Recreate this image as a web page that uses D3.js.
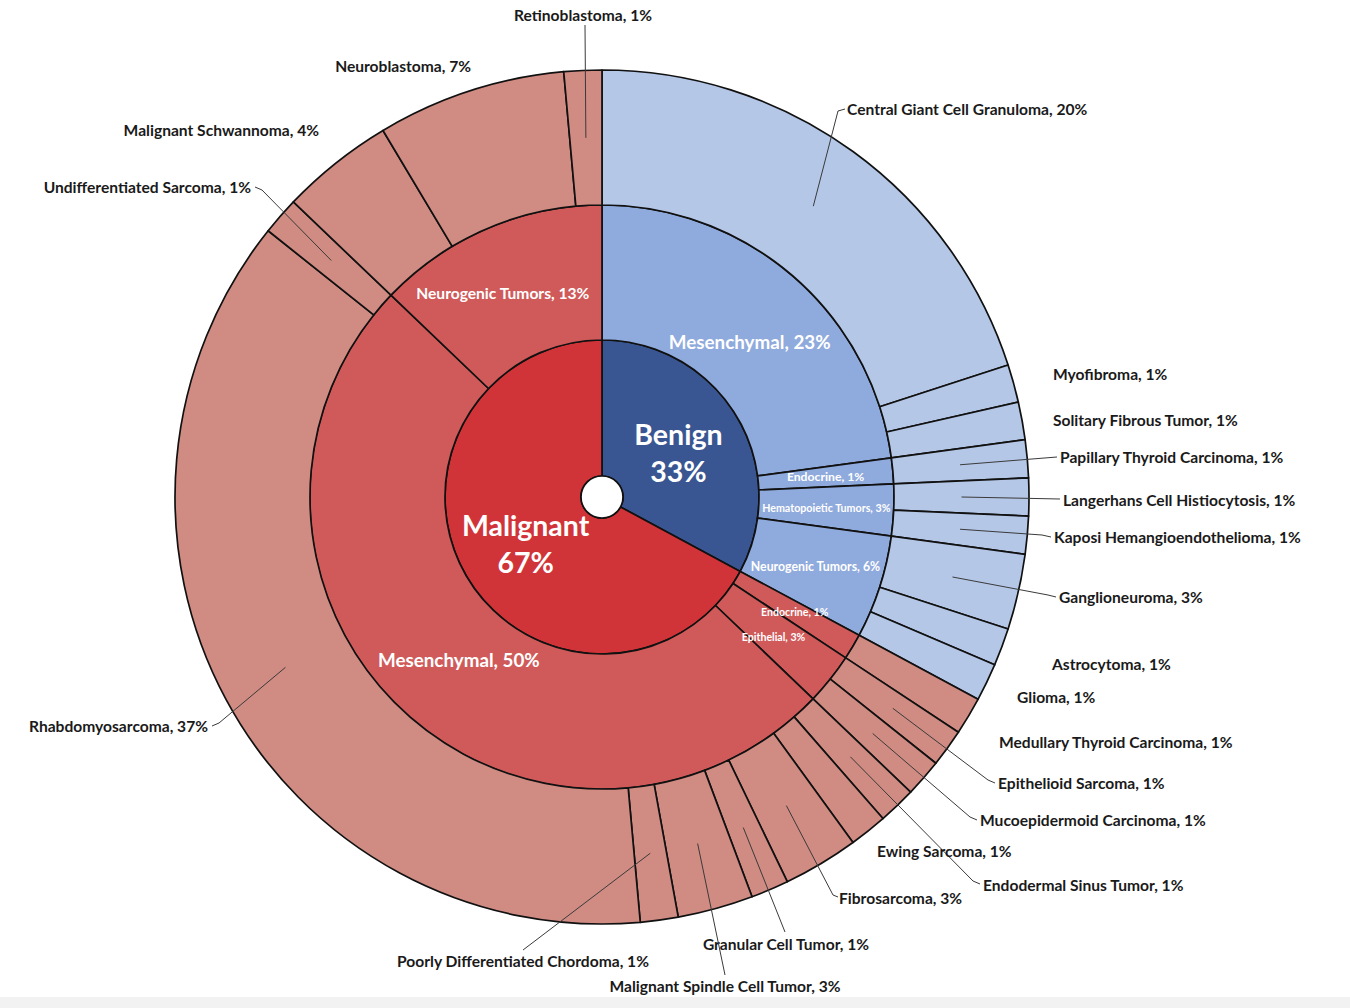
<!DOCTYPE html>
<html>
<head>
<meta charset="utf-8">
<script src="https://cdn.jsdelivr.net/npm/d3@7"></script>
<style>
  html, body { margin: 0; padding: 0; background: #ffffff; }
  svg { display: block; }
  text { font-family: Lato, "Open Sans", sans-serif; font-weight: 700; }
</style>
</head>
<body>
<svg id="chart" width="1350" height="1008"></svg>
<script>
// ---------------- DATA ----------------
const innerNames = ["Benign", "Malignant"];

const middleNames  = ["Mesenchymal", "Endocrine", "Hematopoietic Tumors", "Neurogenic Tumors",
                      "Endocrine", "Epithelial", "Mesenchymal", "Neurogenic Tumors"];
const middleParent = [0, 0, 0, 0, 1, 1, 1, 1];

const outerNames = [
  "Central Giant Cell Granuloma", "Myofibroma", "Solitary Fibrous Tumor",
  "Papillary Thyroid Carcinoma", "Langerhans Cell Histiocytosis", "Kaposi Hemangioendothelioma",
  "Ganglioneuroma", "Astrocytoma", "Glioma",
  "Medullary Thyroid Carcinoma", "Epithelioid Sarcoma", "Mucoepidermoid Carcinoma",
  "Endodermal Sinus Tumor", "Ewing Sarcoma", "Fibrosarcoma", "Granular Cell Tumor",
  "Malignant Spindle Cell Tumor", "Poorly Differentiated Chordoma", "Rhabdomyosarcoma",
  "Undifferentiated Sarcoma", "Malignant Schwannoma", "Neuroblastoma", "Retinoblastoma"
];
const outerCounts = [14, 1, 1, 1, 1, 1, 2, 1, 1, 1, 1, 1, 1, 1, 2, 1, 2, 1, 26, 1, 3, 5, 1];
const outerParent = [0, 0, 0, 1, 2, 2, 3, 3, 3, 4, 5, 5, 6, 6, 6, 6, 6, 6, 6, 6, 7, 7, 7];

// ---------------- LAYOUT (positions / styles) ----------------
const W = 1350, H = 1008;
const cx = 602, cy = 497;
const ringRadii = [21, 157, 292, 427];   // hole, inner, middle, outer edges

const innerColors  = ["#3a5692", "#d13438"];
const middleColors = ["#8faadc", "#d05a5a"];
const outerColors  = ["#b4c7e7", "#d08b83"];

// outer labels: [x, y, anchor, leader points (after segment centroid) or null]
const outerLabelLayout = [
  [847, 109, "start", [[838, 111], [845, 109]]],
  [1053, 374, "start", null],
  [1053, 420, "start", null],
  [1060, 457, "start", [[1057, 457]]],
  [1063, 500, "start", [[1060, 499]]],
  [1054, 537, "start", [[1042, 535], [1051, 537]]],
  [1059, 597, "start", [[1048, 595], [1056, 597]]],
  [1052, 664, "start", null],
  [1017, 697, "start", null],
  [999, 742, "start", null],
  [998, 783, "start", [[988, 780], [995, 783]]],
  [980, 820, "start", [[970, 817], [977, 820]]],
  [983, 885, "start", [[973, 881], [980, 884]]],
  [877, 851, "start", null],
  [839, 898, "start", [[833, 895], [838, 897]]],
  [786, 944, "middle", [[785, 932]]],
  [725, 986, "middle", [[725, 975]]],
  [523, 961, "middle", [[523, 950]]],
  [208, 726, "end", [[219, 723], [212, 726]]],
  [251, 187, "end", [[262, 190], [255, 187]]],
  [319, 130, "end", null],
  [471, 66, "end", null],
  [583, 15, "middle", [[585, 25]]]
];
const outerLabelSize  = 15.6;
const innerLabelSize  = 28.5;
const middleLabelSize = [18.8, 12.2, 10.7, 12.3, 10.6, 10.6, 18.8, 15.6];
const middleLabelDy   = [14, 0, 0, 0, 0, 0, 0, 2];
const middleLabelDx   = [0, 0, 0, 0, 0, -4, 12, -11];

// ---------------- BUILD HIERARCHY ----------------
const rootData = {
  name: "root",
  children: innerNames.map((n, i) => ({
    name: n, gi: i,
    children: middleNames.map((m, j) => ({ m, j })).filter(o => middleParent[o.j] === i)
      .map(o => ({
        name: o.m, gi: i, mi: o.j,
        children: outerNames.map((on, k) => ({ on, k })).filter(q => outerParent[q.k] === o.j)
          .map(q => ({ name: q.on, gi: i, mi: o.j, oi: q.k, value: outerCounts[q.k] }))
      }))
  }))
};

const root = d3.hierarchy(rootData).sum(d => d.value || 0);
d3.partition().size([2 * Math.PI, 4])(root);
const total = root.value;
const pct = v => Math.round(v / total * 100) + "%";

const rScale = d3.scaleOrdinal().domain([1, 2, 3]).range([[ringRadii[0], ringRadii[1]], [ringRadii[1], ringRadii[2]], [ringRadii[2], ringRadii[3]]]);

const arc = d3.arc()
  .startAngle(d => d.x0)
  .endAngle(d => d.x1)
  .innerRadius(d => rScale(d.depth)[0])
  .outerRadius(d => rScale(d.depth)[1]);

const colorFor = d => d.depth === 1 ? innerColors[d.data.gi]
                    : d.depth === 2 ? middleColors[d.data.gi]
                    : outerColors[d.data.gi];

// ---------------- DRAW ----------------
const svg = d3.select("#chart");
svg.append("rect").attr("width", W).attr("height", H).attr("fill", "#ffffff");
svg.append("rect").attr("x", 0).attr("y", 997).attr("width", W).attr("height", 11).attr("fill", "#f2f2f2");

const g = svg.append("g").attr("transform", `translate(${cx},${cy})`);

const nodes = root.descendants().filter(d => d.depth > 0);

g.selectAll("path.seg")
  .data(nodes)
  .join("path")
  .attr("class", "seg")
  .attr("d", arc)
  .attr("fill", colorFor)
  .attr("stroke", "#111")
  .attr("stroke-width", 1.7)
  .attr("stroke-linejoin", "round");

// center hole
g.append("circle").attr("r", ringRadii[0]).attr("fill", "#fff").attr("stroke", "#111").attr("stroke-width", 1.7);

// inner labels
root.children.forEach(d => {
  const [x, y] = arc.centroid(d);
  const t = g.append("text")
    .attr("x", x).attr("y", y)
    .attr("text-anchor", "middle")
    .attr("fill", "#fff")
    .attr("font-size", innerLabelSize);
  t.append("tspan").attr("x", x).attr("dy", "-0.22em").text(d.data.name);
  t.append("tspan").attr("x", x).attr("dy", "1.28em").text(pct(d.value));
});

// middle labels
root.descendants().filter(d => d.depth === 2).forEach(d => {
  const [x, y] = arc.centroid(d);
  g.append("text")
    .attr("x", x + middleLabelDx[d.data.mi]).attr("y", y + middleLabelDy[d.data.mi])
    .attr("text-anchor", "middle")
    .attr("dominant-baseline", "central")
    .attr("fill", "#fff")
    .attr("font-size", middleLabelSize[d.data.mi])
    .text(`${d.data.name}, ${pct(d.value)}`);
});

// outer labels + leaders
const lg = svg.append("g");
root.leaves().forEach(d => {
  const k = d.data.oi;
  const [lx, ly, anchor, pts] = outerLabelLayout[k];
  if (pts) {
    const [ax, ay] = arc.centroid(d);
    const line = d3.line();
    lg.append("path")
      .attr("d", line([[ax + cx, ay + cy], ...pts]))
      .attr("fill", "none")
      .attr("stroke", "#3a3a3a")
      .attr("stroke-width", 1);
  }
  lg.append("text")
    .attr("x", lx).attr("y", ly)
    .attr("text-anchor", anchor)
    .attr("dominant-baseline", "central")
    .attr("fill", "#1a1a1a")
    .attr("font-size", outerLabelSize)
    .text(`${d.data.name}, ${pct(d.value)}`);
});
</script>
</body>
</html>
